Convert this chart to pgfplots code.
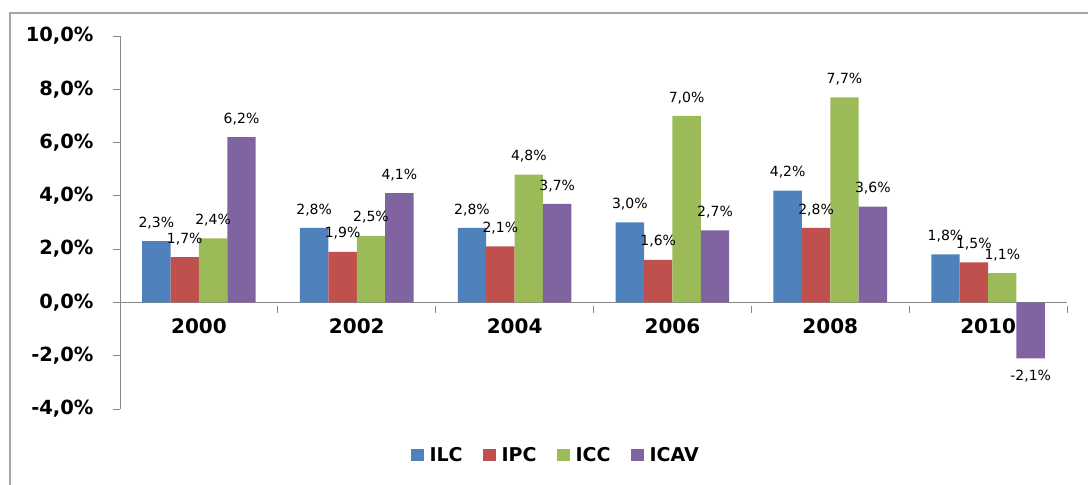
\documentclass[border=0pt]{standalone}
\usepackage{pgfplots}
\pgfplotsset{compat=1.18}
\usepackage{fontspec}
\setmainfont{DejaVu Sans}
\definecolor{cILC}{HTML}{4F81BD}
\definecolor{cIPC}{HTML}{C0504D}
\definecolor{cICC}{HTML}{9BBB59}
\definecolor{cICAV}{HTML}{8064A2}
\definecolor{axgray}{HTML}{888888}
\begin{document}
\begin{tikzpicture}[x=1pt,y=1pt]
\path[use as bounding box] (0,0) rectangle (1088,485);
\draw[color=gray!70, line width=1.2pt] (10,-2) -- (10,472) -- (1090,472);
\begin{axis}[
  at={(120pt,76pt)}, anchor=south west,
  scale only axis, width=947pt, height=373pt,
  ymin=-4, ymax=10, xmin=-0.5, xmax=5.5,
  axis y line=left, axis x line=middle,
  axis line style={-, color=axgray, line width=0.8pt},
  ybar=0pt, bar width=0.18,
  xtick={0,1,2,3,4,5},
  xticklabels={2000,2002,2004,2006,2008,2010},
  x tick style={draw=none},
  minor xtick={-0.5,0.5,1.5,2.5,3.5,4.5,5.5},
  minor x tick style={draw=axgray, line width=0.8pt, yshift=-3.5pt},
  minor tick length=7pt,
  ytick={-4,-2,0,2,4,6,8,10},
  y tick style={draw=axgray, line width=0.8pt},
  tick align=outside, major tick length=7pt,
  yticklabel={\pgfmathprintnumber[fixed,fixed zerofill,precision=1,use comma]{\tick}\%},
  /pgf/number format/assume math mode=true,
  y tick label style={font=\fontsize{19.5}{22}\selectfont\bfseries, xshift=-16pt},
  x tick label style={font=\fontsize{20}{24}\selectfont\bfseries, yshift=-6pt},
  nodes near coords={\pgfmathprintnumber[fixed,fixed zerofill,precision=1,use comma]{\pgfplotspointmeta}\%},
  nodes near coords style={font=\fontsize{14}{16}\selectfont, inner xsep=0pt, inner ysep=12pt},
  every node near coord/.append style={/pgf/number format/assume math mode=true},
  legend columns=4,
  legend style={draw=none, at={(0.46,-0.123)}, anchor=center,
    font=\fontsize{19}{22}\selectfont\bfseries,
    /tikz/every even column/.append style={column sep=18pt}},
  legend image code/.code={\fill[#1,draw=none] (0pt,-6pt) rectangle (13pt,6pt); \path (17pt,0pt);},
  clip=false,
]
\addplot[fill=cILC, draw=none] coordinates {(0,2.3) (1,2.8) (2,2.8) (3,3.0) (4,4.2) (5,1.8)};
\addplot[fill=cIPC, draw=none] coordinates {(0,1.7) (1,1.9) (2,2.1) (3,1.6) (4,2.8) (5,1.5)};
\addplot[fill=cICC, draw=none] coordinates {(0,2.4) (1,2.5) (2,4.8) (3,7.0) (4,7.7) (5,1.1)};
\addplot[fill=cICAV, draw=none] coordinates {(0,6.2) (1,4.1) (2,3.7) (3,2.7) (4,3.6) (5,-2.1)};
\legend{ILC,IPC,ICC,ICAV}
\end{axis}
\end{tikzpicture}
\end{document}
